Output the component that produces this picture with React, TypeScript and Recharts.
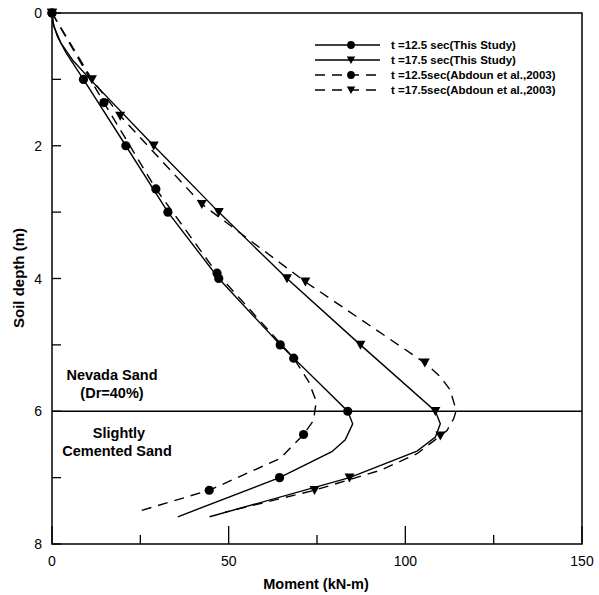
import React from "react";
import {
  ScatterChart,
  Scatter,
  XAxis,
  YAxis,
  ReferenceLine,
  ReferenceArea,
  Customized,
} from "recharts";

const FONT = "'Liberation Sans', Arial, sans-serif";

// t=12.5 sec (This Study)
const s1Depth = [0, 0.15, 0.35, 0.6, 1.0, 2.0, 3.0, 4.0, 5.0, 6.0, 6.19, 6.43, 6.61, 7.0, 7.59];
const s1Moment = [0, 0.3, 1.5, 4.0, 8.9, 20.9, 32.8, 47.2, 64.6, 83.7, 85.1, 83.0, 79.2, 64.4, 35.6];
const s1Mark = [1, 0, 0, 0, 1, 1, 1, 1, 1, 1, 0, 0, 0, 1, 0];

// t=17.5 sec (This Study)
const s2Depth = [0, 0.2, 0.45, 0.72, 1.0, 2.0, 3.0, 4.0, 5.0, 6.0, 6.19, 6.39, 6.6, 7.0, 7.59];
const s2Moment = [0, 0.5, 2.5, 6.0, 10.8, 28.8, 47.2, 66.5, 87.3, 108.5, 109.9, 108.5, 103.3, 84.2, 44.6];
const s2Mark = [1, 0, 0, 0, 0, 1, 1, 1, 1, 1, 0, 0, 0, 1, 0];

// t=12.5 sec (Abdoun et al., 2003)
const d1Depth = [0, 1.35, 2.65, 3.92, 5.2, 5.55, 5.85, 6.14, 6.35, 6.71, 7.19, 7.5];
const d1Moment = [0, 14.7, 29.4, 46.7, 68.4, 72.6, 74.8, 74.0, 71.2, 64.6, 44.5, 25.0];
const d1Mark = [1, 1, 1, 1, 1, 0, 0, 0, 1, 0, 1, 0];

// t=17.5 sec (Abdoun et al., 2003)
const d2Depth = [0, 1.0, 1.55, 2.88, 4.05, 5.27, 5.48, 5.68, 5.99, 6.11, 6.29, 6.37, 6.64, 6.89, 7.19, 7.52];
const d2Moment = [0, 11.3, 19.3, 42.4, 71.7, 105.5, 109.9, 112.7, 114.4, 113.7, 111.8, 109.9, 103.3, 92.9, 74.3, 49.0];
const d2Mark = [1, 1, 1, 1, 1, 1, 0, 0, 0, 0, 0, 1, 0, 0, 1, 0];

const xTicks = [0, 25, 50, 75, 100, 125, 150];
const yTicks = [0, 1, 2, 3, 4, 5, 6, 7, 8];

const toPoints = (moment: number[], depth: number[], mark: number[]) =>
  moment.map((x, i) => ({ x, y: depth[i], m: mark[i] }));

const series = [
  { name: "t =12.5 sec(This Study)", data: toPoints(s1Moment, s1Depth, s1Mark), marker: "circle", dash: undefined },
  { name: "t =17.5 sec(This Study)", data: toPoints(s2Moment, s2Depth, s2Mark), marker: "triangle", dash: undefined },
  { name: "t =12.5sec(Abdoun et al.,2003)", data: toPoints(d1Moment, d1Depth, d1Mark), marker: "circle", dash: "10 7" },
  { name: "t =17.5sec(Abdoun et al.,2003)", data: toPoints(d2Moment, d2Depth, d2Mark), marker: "triangle", dash: "10 7" },
];

const Marker = ({ type, cx, cy, s = 1 }: { type: string; cx: number; cy: number; s?: number }) =>
  type === "circle" ? (
    <circle cx={cx} cy={cy} r={4.6 * s} fill="#000" />
  ) : (
    <path
      d={`M${cx - 5 * s},${cy - 4.2 * s}L${cx + 5 * s},${cy - 4.2 * s}L${cx},${cy + 4.8 * s}Z`}
      fill="#000"
    />
  );

const makeShape = (type: string) => (props: any) =>
  props.payload && props.payload.m ? <Marker type={type} cx={props.cx} cy={props.cy} /> : <g />;

const XTick = (props: any) => {
  const { x, y, payload } = props;
  const major = payload.value % 50 === 0;
  return (
    <g>
      <line x1={x} y1={y} x2={x} y2={y - (major ? 18 : 9)} stroke="#000" strokeWidth={1.3} />
      {major && (
        <text x={x} y={y + 22} textAnchor="middle" fontSize={14} fontFamily={FONT} fill="#000">
          {payload.value}
        </text>
      )}
    </g>
  );
};

const YTick = (props: any) => {
  const { x, y, payload } = props;
  return (
    <g>
      <line x1={x} y1={y} x2={x + 9} y2={y} stroke="#000" strokeWidth={1.3} />
      {payload.value % 2 === 0 && (
        <text x={x - 10} y={y + 5} textAnchor="end" fontSize={14} fontFamily={FONT} fill="#000">
          {payload.value}
        </text>
      )}
    </g>
  );
};

const Annotations = () => (
  <g fontFamily={FONT} fontWeight="bold" fill="#000">
    <text x={316} y={589} textAnchor="middle" fontSize={14.5}>
      Moment (kN-m)
    </text>
    <text x={24} y={278} textAnchor="middle" fontSize={15} transform="rotate(-90 24 278)">
      Soil depth (m)
    </text>
    <text x={112} y={380} textAnchor="middle" fontSize={14.5}>Nevada Sand</text>
    <text x={112} y={398} textAnchor="middle" fontSize={14.5}>(Dr=40%)</text>
    <text x={119} y={438} textAnchor="middle" fontSize={14.5}>Slightly</text>
    <text x={117} y={456} textAnchor="middle" fontSize={14.5}>Cemented Sand</text>
    {series.map((s, i) => {
      const cy = 45 + i * 15;
      return (
        <g key={s.name}>
          <line x1={315} y1={cy} x2={380} y2={cy} stroke="#000" strokeWidth={1.5} strokeDasharray={s.dash} />
          <Marker type={s.marker} cx={351} cy={cy} s={0.85} />
          <text x={391} y={cy + 4} fontSize={11.5}>
            {s.name}
          </text>
        </g>
      );
    })}
  </g>
);

export default function App() {
  return (
    <div style={{ position: "absolute", left: 0, top: 0, width: 599, height: 595, background: "#fff" }}>
      <ScatterChart width={599} height={595} margin={{ top: 13, right: 17, bottom: 21, left: 12 }}>
        <XAxis
          type="number"
          dataKey="x"
          domain={[0, 150]}
          ticks={xTicks}
          tick={<XTick />}
          tickLine={false}
          tickSize={0}
          tickMargin={0}
          axisLine={false}
          height={30}
          interval={0}
        />
        <YAxis
          type="number"
          dataKey="y"
          domain={[0, 8]}
          reversed
          ticks={yTicks}
          tick={<YTick />}
          tickLine={false}
          tickSize={0}
          tickMargin={0}
          axisLine={false}
          width={40}
          interval={0}
        />
        <ReferenceArea x1={0} x2={150} y1={0} y2={8} fill="none" stroke="#000" strokeWidth={1.5} fillOpacity={0} />
        <ReferenceLine y={6} stroke="#000" strokeWidth={1.5} />
        {series.map((s) => (
          <Scatter
            key={s.name}
            name={s.name}
            data={s.data}
            line={{ stroke: "#000", strokeWidth: 1.4, strokeDasharray: s.dash }}
            lineType="joint"
            shape={makeShape(s.marker)}
            isAnimationActive={false}
          />
        ))}
        <Customized component={Annotations} />
      </ScatterChart>
    </div>
  );
}
